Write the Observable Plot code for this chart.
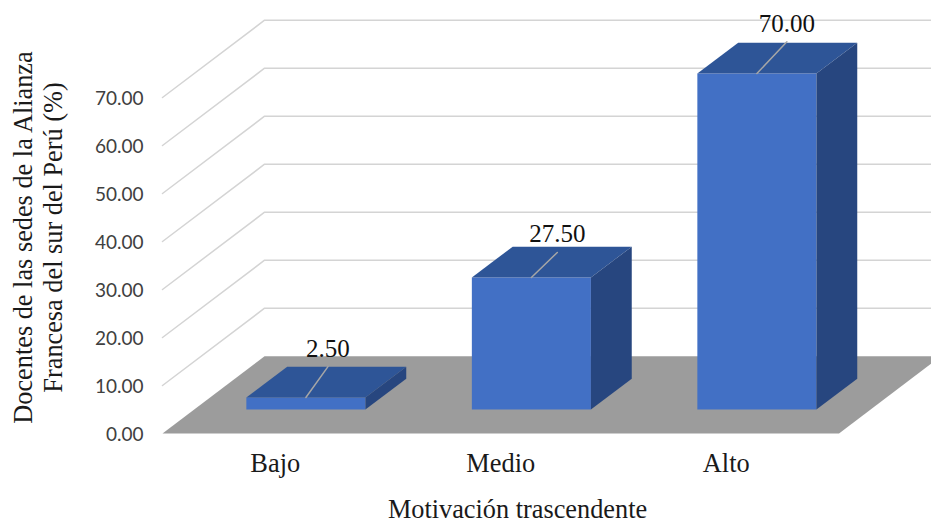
<!DOCTYPE html>
<html><head><meta charset="utf-8">
<style>html,body{margin:0;padding:0;background:#fff}svg{display:block}</style>
<script src="https://cdn.jsdelivr.net/npm/d3@7"></script>
<script src="https://cdn.jsdelivr.net/npm/@observablehq/plot@0.6"></script>
</head><body><div id="chart"></div>
<script>
const categories = ["Bajo", "Medio", "Alto"];
const values = [2.5, 27.5, 70];
const valueLabels = ["2.50", "27.50", "70.00"];
const yTicks = [0, 10, 20, 30, 40, 50, 60, 70];
const gridValues = [10, 20, 30, 40, 50, 60, 70];
const xTitle = "Motivación trascendente";
const yTitle = "Docentes de las sedes de la Alianza\nFrancesa del sur del Perú (%)";

// Oblique projection: depth 0 is the front edge of the floor, depth 1 the back wall.
const kx = 0.4527, ky = 16.1;
const px = (u, d) => u + d * kx;
const py = (v, d) => v + d * ky;
const halfW = 0.264, d0 = 0.31, d1 = 0.71, barShift = -0.0045;
const xMin = -0.5, xMax = 2.5, yMax = 70;

const poly = (id, pts) => pts.map(([u, v, d]) => ({id, x: px(u, d), y: py(v, d)}));
const floor = poly("floor", [[xMin,0,0],[xMax,0,0],[xMax,0,1],[xMin,0,1]]);
const grid = gridValues.flatMap(v => poly("g"+v, [[xMin,v,0],[xMin,v,1],[xMax+0.1,v,1]]));
const bars = values.map((v, i) => ({v, i, c: i + barShift, l: i + barShift - halfW, r: i + barShift + halfW}));
const fronts = bars.flatMap(b => poly("f"+b.i, [[b.l,0,d0],[b.r,0,d0],[b.r,b.v,d0],[b.l,b.v,d0]]));
const tops = bars.flatMap(b => poly("t"+b.i, [[b.l,b.v,d0],[b.r,b.v,d0],[b.r,b.v,d1],[b.l,b.v,d1]]));
const sides = bars.flatMap(b => poly("s"+b.i, [[b.r,0,d0],[b.r,0,d1],[b.r,b.v,d1],[b.r,b.v,d0]]));
// Data-label leaders: how far they reach across the bar top, and how far they lean.
const leaderDepth = [0.71, 0.635, 0.72];
const leaderLean = [0.098, 0.115, 0.133];
const leaders = bars.flatMap(b => [
  {id: b.i, x: px(b.c, d0), y: py(b.v, d0)},
  {id: b.i, x: px(b.c, d0) + leaderLean[b.i], y: py(b.v, leaderDepth[b.i])}
]);
const labels = bars.map((b, i) => ({t: valueLabels[i], x: px(b.c, d0) + leaderLean[i], y: py(b.v, leaderDepth[i])}));

const serif = "Liberation Serif";
const face = (data, fill) => Plot.line(data, {x: "x", y: "y", z: "id", fill, stroke: "none"});

const chart = Plot.plot({
  width: 931, height: 523,
  marginLeft: 143, marginRight: 0, marginTop: 0, marginBottom: 73,
  style: {background: "#fff"},
  x: {domain: [xMin, xMax], range: [162, 838.5]},
  y: {domain: [0, yMax], range: [433, 97]},
  marks: [
    Plot.line(grid, {x: "x", y: "y", z: "id", stroke: "#d4d4d4", strokeWidth: 1.5}),
    face(floor, "#9c9c9c"),
    face(fronts, "#4270c5"),
    face(tops, "#2e5597"),
    face(sides, "#27467f"),
    Plot.line(leaders, {x: "x", y: "y", z: "id", stroke: "#a6a6a6", strokeWidth: 1.5}),
    Plot.text(labels, {x: "x", y: "y", text: "t", dy: -18, fontSize: 25, fontFamily: serif, fill: "#111"}),
    Plot.axisY({ticks: yTicks, tickSize: 0, tickPadding: 0, label: null, tickFormat: d => d.toFixed(2),
      dy: 1, fontSize: 19, fontFamily: "Lato", color: "#404040"}),
    Plot.axisX({ticks: [0, 1, 2], tickSize: 0, tickPadding: 3, label: null, tickFormat: i => categories[i],
      fontSize: 26.4, fontFamily: serif, color: "#1a1a1a"}),
    Plot.text([xTitle], {frameAnchor: "bottom", text: d => d, dy: 67, dx: -20, fontSize: 26.3, fontFamily: serif, fill: "#1a1a1a"}),
    Plot.text([yTitle], {frameAnchor: "left", textAnchor: "middle", text: d => d, rotate: -90, dx: -106.5, dy: 12, fontSize: 26.3, lineHeight: 1.15, fontFamily: serif, fill: "#1a1a1a"})
  ]
});
document.getElementById("chart").append(chart);
</script></body></html>
